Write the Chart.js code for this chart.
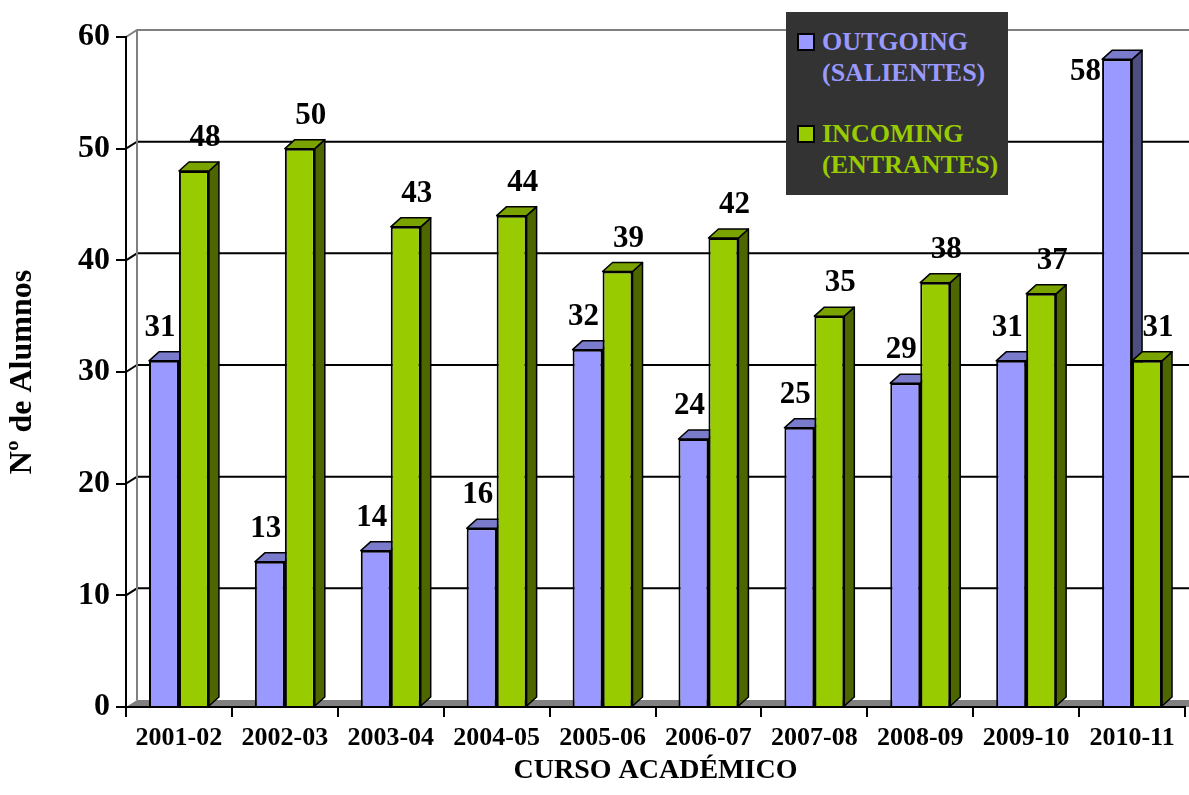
<!DOCTYPE html>
<html>
<head>
<meta charset="utf-8">
<script src="https://cdn.jsdelivr.net/npm/chart.js@4.4.0/dist/chart.umd.min.js"></script>
<style>
html,body{margin:0;padding:0;background:#fff;}
#wrap{position:relative;width:1189px;height:795px;}
#legend{position:absolute;left:786px;top:12px;width:222px;height:183px;background:#333333;
  font-family:'Liberation Serif','Times New Roman',serif;font-weight:bold;font-size:26px;line-height:31px;}
.mk{position:absolute;left:11px;width:14px;height:14px;border:2px solid #000;}
.tx{position:absolute;left:36px;white-space:nowrap;}
</style>
</head>
<body>
<div id="wrap">
<canvas id="c" width="1189" height="795"></canvas>
<div id="legend"></div>
</div>
<script>
const categories = ['2001-02','2002-03','2003-04','2004-05','2005-06','2006-07','2007-08','2008-09','2009-10','2010-11'];
const outgoing = [31,13,14,16,32,24,25,29,31,58];
const incoming = [48,50,43,44,39,42,35,38,37,31];
const yTicks = [0,10,20,30,40,50,60];
const seriesNames = [['OUTGOING','(SALIENTES)'],['INCOMING','(ENTRANTES)']];
const frontColors = ['#9999ff','#99cc00'];
const topColors = ['#7b7bcc','#7aa300'];
const sideColors = ['#4d4d80','#4d6600'];
const FONT = "'Liberation Serif','Times New Roman',serif";

// legend (HTML text)
const lg = document.getElementById('legend');
seriesNames.forEach((lines, i) => {
  const base = i === 0 ? 14 : 106;
  const mk = document.createElement('div');
  mk.className = 'mk';
  mk.style.top = (base + 7) + 'px';
  mk.style.background = frontColors[i];
  lg.appendChild(mk);
  lines.forEach((t, j) => {
    const d = document.createElement('div');
    d.className = 'tx';
    d.style.top = (base + j * 31) + 'px';
    d.style.color = frontColors[i];
    d.textContent = t;
    lg.appendChild(d);
  });
});

const DX = 10, DY = -9;   // bar depth
const WX = 11, WY = -7;   // wall depth

const walls = {
  id: 'walls',
  beforeDraw(chart) {
    const ctx = chart.ctx, ca = chart.chartArea, ys = chart.scales.y;
    ctx.save();
    ctx.fillStyle = '#fff';
    ctx.fillRect(0, 0, chart.width, chart.height);
    // floor
    ctx.fillStyle = '#808080';
    ctx.beginPath();
    ctx.moveTo(ca.left, ca.bottom);
    ctx.lineTo(ca.left + WX, ca.bottom + WY);
    ctx.lineTo(chart.width, ca.bottom + WY);
    ctx.lineTo(chart.width, ca.bottom);
    ctx.closePath();
    ctx.fill();
    // gridlines on back wall
    ctx.lineWidth = 2;
    yTicks.forEach(v => {
      if (v === 0) return;
      const y = ys.getPixelForValue(v);
      ctx.strokeStyle = v === yTicks[yTicks.length - 1] ? '#808080' : '#000';
      ctx.beginPath();
      ctx.moveTo(ca.left, y);
      ctx.lineTo(ca.left + WX, y + WY);
      ctx.lineTo(chart.width, y + WY);
      ctx.stroke();
    });
    // left wall edge
    ctx.strokeStyle = '#808080';
    ctx.beginPath();
    ctx.moveTo(ca.left + WX, ys.getPixelForValue(yTicks[yTicks.length - 1]) + WY);
    ctx.lineTo(ca.left + WX, ca.bottom + WY);
    ctx.stroke();
    ctx.restore();
  },
  beforeDatasetsDraw(chart) {
    const ctx = chart.ctx;
    const metas = [chart.getDatasetMeta(0), chart.getDatasetMeta(1)];
    ctx.save();
    ctx.lineWidth = 1.5;
    ctx.strokeStyle = '#000';
    ctx.lineJoin = 'round';
    for (let i = 0; i < categories.length; i++) {
      metas.forEach((m, di) => {
        const p = m.data[i].getProps(['x', 'y', 'base', 'width'], true);
        const l = p.x - p.width / 2, r = p.x + p.width / 2, t = p.y, b = p.base;
        ctx.fillStyle = sideColors[di];
        ctx.beginPath();
        ctx.moveTo(r, t); ctx.lineTo(r + DX, t + DY); ctx.lineTo(r + DX, b + DY); ctx.lineTo(r, b);
        ctx.closePath(); ctx.fill(); ctx.stroke();
        ctx.fillStyle = topColors[di];
        ctx.beginPath();
        ctx.moveTo(l, t); ctx.lineTo(l + DX, t + DY); ctx.lineTo(r + DX, t + DY); ctx.lineTo(r, t);
        ctx.closePath(); ctx.fill(); ctx.stroke();
      });
    }
    ctx.restore();
  },
  afterDatasetsDraw(chart) {
    const ctx = chart.ctx, ca = chart.chartArea;
    ctx.save();
    ctx.font = 'bold 31px ' + FONT;
    ctx.fillStyle = '#000';
    ctx.textBaseline = 'middle';
    [0, 1].forEach(di => {
      const m = chart.getDatasetMeta(di);
      const vals = chart.data.datasets[di].data;
      m.data.forEach((el, i) => {
        const p = el.getProps(['x', 'y', 'width'], true);
        let x = p.x + (di === 0 ? -4 : 11), y = p.y - 33;
        ctx.textAlign = 'center';
        if (y < ca.top + 12) {
          ctx.textAlign = 'right';
          x = p.x - p.width / 2 - 1;
          y = p.y + 13;
        }
        ctx.fillText(String(vals[i]), x, y);
      });
    });
    ctx.restore();
  }
};

new Chart(document.getElementById('c'), {
  type: 'bar',
  data: {
    labels: categories,
    datasets: [
      { label: seriesNames[0].join(' '), data: outgoing, backgroundColor: frontColors[0], borderColor: '#000', borderWidth: 2 },
      { label: seriesNames[1].join(' '), data: incoming, backgroundColor: frontColors[1], borderColor: '#000', borderWidth: 2 }
    ]
  },
  options: {
    responsive: false,
    animation: false,
    layout: { padding: { top: 37, right: 4, left: 0, bottom: 0 } },
    datasets: { bar: { categoryPercentage: 0.566, barPercentage: 1.0 } },
    plugins: { legend: { display: false }, tooltip: { enabled: false } },
    scales: {
      x: {
        offset: true,
        afterFit(s) { s.height = 88; },
        grid: { display: true, drawOnChartArea: false, drawTicks: true, tickLength: 10, color: '#000', lineWidth: 2, offset: true },
        border: { display: true, color: '#000', width: 2 },
        ticks: { color: '#000', font: { family: FONT, size: 26, weight: 'bold' }, padding: 6, maxRotation: 0, autoSkip: false },
        title: { display: true, text: 'CURSO ACADÉMICO', color: '#000', font: { family: FONT, size: 28, weight: 'bold' }, padding: { top: 0, bottom: 7 } }
      },
      y: {
        min: 0, max: 60,
        afterFit(s) { s.width = 126; },
        afterBuildTicks(s) { s.ticks = yTicks.map(v => ({ value: v })); },
        grid: { display: true, drawOnChartArea: false, drawTicks: true, tickLength: 10, color: '#000', lineWidth: 2 },
        border: { display: true, color: '#000', width: 2 },
        ticks: { color: '#000', font: { family: FONT, size: 32, weight: 'bold' }, padding: 6 },
        title: { display: true, text: 'Nº de Alumnos', color: '#000', font: { family: FONT, size: 32, weight: 'bold' }, padding: { top: 4, bottom: 0 } }
      }
    }
  },
  plugins: [walls]
});
</script>
</body>
</html>
